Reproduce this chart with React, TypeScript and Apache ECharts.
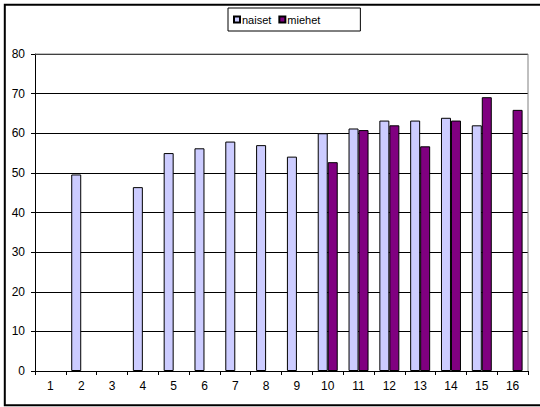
import React, { useEffect, useRef } from "react";
import * as echarts from "echarts";

const categories = ["1", "2", "3", "4", "5", "6", "7", "8", "9", "10", "11", "12", "13", "14", "15", "16"];
const naiset: (number | string)[] = ["-", 49.6, "-", 46.4, 55.0, 56.2, 57.9, 57.0, 54.1, 60.0, 61.2, 63.2, 63.2, 63.9, 62.0, "-"];
const miehet: (number | string)[] = ["-", "-", "-", "-", "-", "-", "-", "-", "-", 52.7, 60.8, 62.0, 56.7, 63.2, 69.1, 65.9];
const yTicks = { min: 0, max: 80, interval: 10 };

const FONT = "'Liberation Sans', Arial, sans-serif";

export default function App() {
  const ref = useRef<HTMLDivElement>(null);
  useEffect(() => {
    if (!ref.current) return;
    const chart = echarts.init(ref.current, null, { renderer: "svg" });
    chart.setOption({
      animation: false,
      backgroundColor: "#fff",
      textStyle: { fontFamily: FONT },
      grid: { left: 35, right: 12, top: 54, bottom: 36 },
      legend: {
        top: 8,
        left: 228,
        orient: "horizontal",
        itemWidth: 6,
        itemHeight: 6,
        itemGap: 7,
        borderColor: "#000",
        borderWidth: 1,
        padding: [6, 40, 6, 5],
        textStyle: { fontFamily: FONT, fontSize: 11, color: "#000", padding: [0, 0, 0, -3] },
        data: [
          { name: "naiset", icon: "rect" },
          { name: "miehet", icon: "rect" },
        ],
      },
      xAxis: {
        type: "category",
        data: categories,
        axisLine: { lineStyle: { color: "#000", width: 1 } },
        axisTick: { show: true, length: 4, lineStyle: { color: "#000" } },
        axisLabel: { color: "#000", fontSize: 12, fontFamily: FONT, margin: 9 },
      },
      yAxis: {
        type: "value",
        min: yTicks.min,
        max: yTicks.max,
        interval: yTicks.interval,
        axisLine: { show: true, lineStyle: { color: "#000", width: 1 } },
        axisTick: { show: true, length: 4, lineStyle: { color: "#000" } },
        axisLabel: { color: "#000", fontSize: 12, fontFamily: FONT, margin: 10 },
        splitLine: { show: true, lineStyle: { color: "#000", width: 1 } },
      },
      series: [
        {
          name: "naiset",
          type: "bar",
          data: naiset,
          barWidth: 10,
          barGap: "0%",
          itemStyle: { color: "#CCCCFF", borderColor: "#000", borderWidth: 1 },
        },
        {
          name: "miehet",
          type: "bar",
          data: miehet,
          barWidth: 10,
          barGap: "0%",
          itemStyle: { color: "#800080", borderColor: "#000", borderWidth: 1 },
        },
      ],
      graphic: [
        {
          type: "polyline",
          z: 100,
          silent: true,
          shape: { points: [[35, 54], [528, 54], [528, 371]] },
          style: { stroke: "#808080", lineWidth: 1, fill: null },
        },
        {
          type: "rect",
          z: 100,
          silent: true,
          shape: { x: 4.8, y: 4.8, width: 560, height: 400.5 },
          style: { stroke: "#000", lineWidth: 2, fill: null },
        },
      ],
    });
    return () => chart.dispose();
  }, []);
  return (
    <div
      ref={ref}
      style={{ position: "fixed", left: 0, top: 0, width: 540, height: 407 }}
    />
  );
}
